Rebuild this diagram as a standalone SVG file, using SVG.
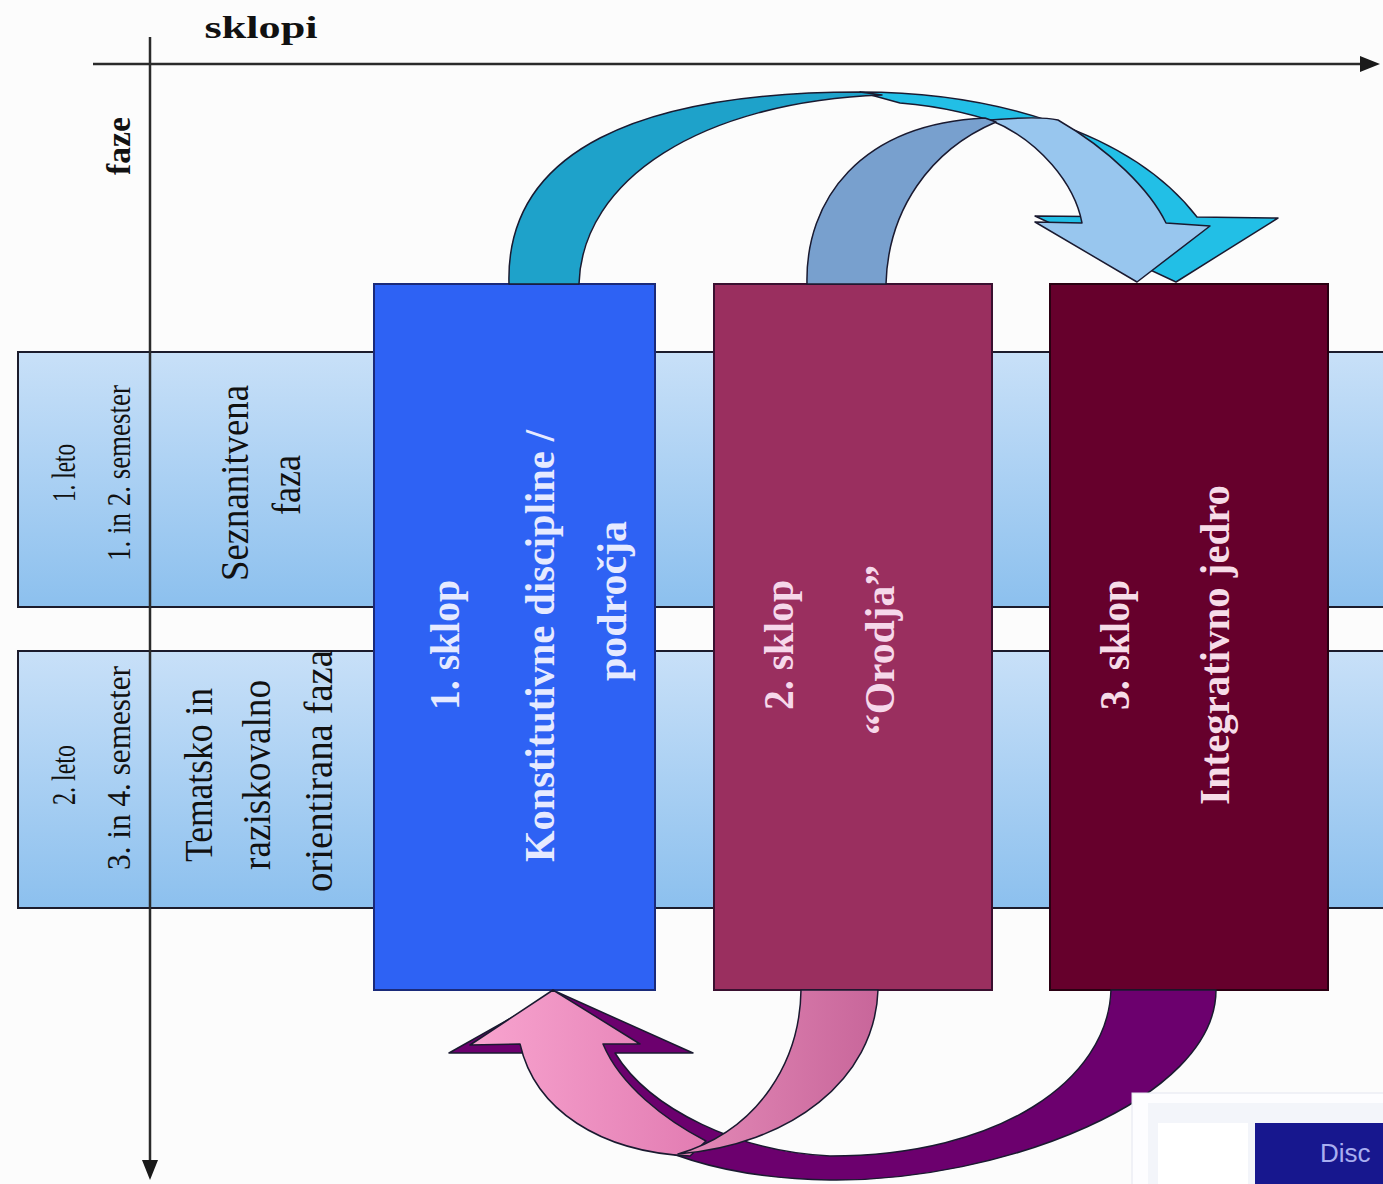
<svg xmlns="http://www.w3.org/2000/svg" width="1383" height="1184" viewBox="0 0 1383 1184">
<defs>
<linearGradient id="band" x1="0" y1="0" x2="0" y2="1">
<stop offset="0" stop-color="#c8e0f8"/>
<stop offset="1" stop-color="#8cc0ee"/>
</linearGradient>
<linearGradient id="pink" x1="0" y1="0" x2="1" y2="0">
<stop offset="0" stop-color="#f8a4cf"/>
<stop offset="1" stop-color="#e27cb2"/>
</linearGradient>
<linearGradient id="mauve" x1="0" y1="0" x2="1" y2="0">
<stop offset="0" stop-color="#e48ab8"/>
<stop offset="1" stop-color="#c8669a"/>
</linearGradient>
<marker id="ah" viewBox="0 0 20 16" refX="2" refY="8" markerWidth="20" markerHeight="16" markerUnits="userSpaceOnUse" orient="auto">
<path d="M0,0 L20,8 L0,16 Z" fill="#1a1a1a"/>
</marker>
</defs>
<style>
.axis{stroke:#2a2a2a;stroke-width:2.5;fill:none}
.band{fill:url(#band);stroke:#1c1c2c;stroke-width:2}
.col{stroke-width:2}
.arr{stroke:#1a1a30;stroke-width:1.5;stroke-linejoin:round}
.t{font-family:"Liberation Serif","Times New Roman",serif}
.lbl{font-size:33px;fill:#111}
.ph{font-size:40px;fill:#111}
.cl{font-size:43px;font-weight:bold}
</style>
<rect width="1383" height="1184" fill="#fcfcfc"/>

<g id="band1">
<rect class="band" x="18" y="352" width="1380" height="255"/>
<text class="t lbl" transform="translate(75,473) rotate(-90)" text-anchor="middle" textLength="58" lengthAdjust="spacingAndGlyphs">1. leto</text>
<text class="t lbl" transform="translate(130,473) rotate(-90)" text-anchor="middle" textLength="176" lengthAdjust="spacingAndGlyphs">1. in 2. semester</text>
<text class="t ph" transform="translate(248,483) rotate(-90)" text-anchor="middle" textLength="196" lengthAdjust="spacingAndGlyphs">Seznanitvena</text>
<text class="t ph" transform="translate(300,485) rotate(-90)" text-anchor="middle" textLength="60" lengthAdjust="spacingAndGlyphs">faza</text>
</g>

<g id="band2">
<rect class="band" x="18" y="651" width="1380" height="257"/>
<text class="t lbl" transform="translate(75,775) rotate(-90)" text-anchor="middle" textLength="60" lengthAdjust="spacingAndGlyphs">2. leto</text>
<text class="t lbl" transform="translate(130,768) rotate(-90)" text-anchor="middle" textLength="204" lengthAdjust="spacingAndGlyphs">3. in 4. semester</text>
<text class="t ph" transform="translate(212,775) rotate(-90)" text-anchor="middle" textLength="174" lengthAdjust="spacingAndGlyphs">Tematsko in</text>
<text class="t ph" transform="translate(270,775) rotate(-90)" text-anchor="middle" textLength="190" lengthAdjust="spacingAndGlyphs">raziskovalno</text>
<text class="t ph" transform="translate(332,771) rotate(-90)" text-anchor="middle" textLength="242" lengthAdjust="spacingAndGlyphs">orientirana faza</text>
</g>

<g id="axes">
<line class="axis" x1="93" y1="64" x2="1362" y2="64" marker-end="url(#ah)"/>
<line class="axis" x1="150" y1="37" x2="150" y2="1162" marker-end="url(#ah)"/>
<text class="t" x="261" y="38" text-anchor="middle" font-size="31" font-weight="bold" fill="#111" textLength="113" lengthAdjust="spacingAndGlyphs">sklopi</text>
<text class="t" transform="translate(130,146) rotate(-90)" text-anchor="middle" font-size="34" font-weight="bold" fill="#111" textLength="58" lengthAdjust="spacingAndGlyphs">faze</text>
</g>

<g id="sklop1">
<rect class="col" x="374" y="284" width="281" height="706" fill="#2e62f4" stroke="#1a2a7a"/>
<text class="t cl" fill="#e6eaff" transform="translate(459,645) rotate(-90)" text-anchor="middle" textLength="130" lengthAdjust="spacingAndGlyphs">1. sklop</text>
<text class="t cl" fill="#e6eaff" transform="translate(554,646) rotate(-90)" text-anchor="middle" textLength="432" lengthAdjust="spacingAndGlyphs">Konstitutivne discipline /</text>
<text class="t cl" fill="#e6eaff" transform="translate(626,601) rotate(-90)" text-anchor="middle" textLength="160" lengthAdjust="spacingAndGlyphs">področja</text>
</g>

<g id="sklop2">
<rect class="col" x="714" y="284" width="278" height="706" fill="#9a2f5f" stroke="#3a1030"/>
<text class="t cl" fill="#f6d8ea" transform="translate(793,645) rotate(-90)" text-anchor="middle" textLength="130" lengthAdjust="spacingAndGlyphs">2. sklop</text>
<text class="t cl" fill="#f6d8ea" transform="translate(894,650) rotate(-90)" text-anchor="middle" textLength="170" lengthAdjust="spacingAndGlyphs">“Orodja”</text>
</g>

<g id="sklop3">
<rect class="col" x="1050" y="284" width="278" height="706" fill="#66002c" stroke="#2a0012"/>
<text class="t cl" fill="#f6dce8" transform="translate(1129,645) rotate(-90)" text-anchor="middle" textLength="130" lengthAdjust="spacingAndGlyphs">3. sklop</text>
<text class="t cl" fill="#f6dce8" transform="translate(1229,645) rotate(-90)" text-anchor="middle" textLength="320" lengthAdjust="spacingAndGlyphs">Integrativno jedro</text>
</g>

<g id="connectors">
<path class="arr" fill="#22bfe6" d="M860 92 C990 92 1130 130 1197 217 L1278 218 L1176 282 L1035 216 L1140 217 C1090 150 990 110 900 103 Z"/>
<path class="arr" fill="#1ea2ca" d="M509 284 C505 150 640 92 860 92 L882 95 C700 102 582 180 579 284 Z"/>
<path class="arr" fill="#98c6ee" d="M990 120 C1025 117 1045 117 1058 120 C1110 150 1150 190 1166 223 L1210 226 L1137 282 L1035 222 L1082 223 C1075 185 1040 140 990 120 Z"/>
<path class="arr" fill="#78a0ce" d="M807 284 C805 200 860 124 985 118 L996 122 C930 150 888 210 886 284 Z"/>

<path class="arr" fill="#6c006e" d="M1111 990 L1216 990 C1216 1100 1000 1182 830 1180 C700 1178 600 1140 545 1053 L449 1053 L557 992 L693 1053 L615 1053 C650 1110 740 1152 830 1156 C1000 1156 1108 1080 1111 990 Z"/>
<path class="arr" fill="url(#pink)" d="M520 1044 C535 1110 600 1152 690 1156 L706 1141 C665 1120 620 1085 603 1044 L640 1044 L553 990 L470 1045 Z"/>
<path class="arr" fill="url(#mauve)" d="M801 990 L878 990 C875 1080 790 1145 678 1154 C760 1130 800 1060 801 990 Z"/>
</g>

<g id="disc">
<rect x="1132" y="1093" width="260" height="100" fill="#fdfdff" stroke="#e4e6f0" stroke-width="1"/>
<rect x="1148" y="1103" width="240" height="90" fill="#f3f5fa"/>
<rect x="1158" y="1123" width="90" height="70" fill="#ffffff"/>
<rect x="1255" y="1123" width="140" height="70" fill="#17178e"/>
<text x="1320" y="1162" font-family="Liberation Sans, Arial, sans-serif" font-size="26" fill="#a8aef0">Disc</text>
</g>
</svg>
